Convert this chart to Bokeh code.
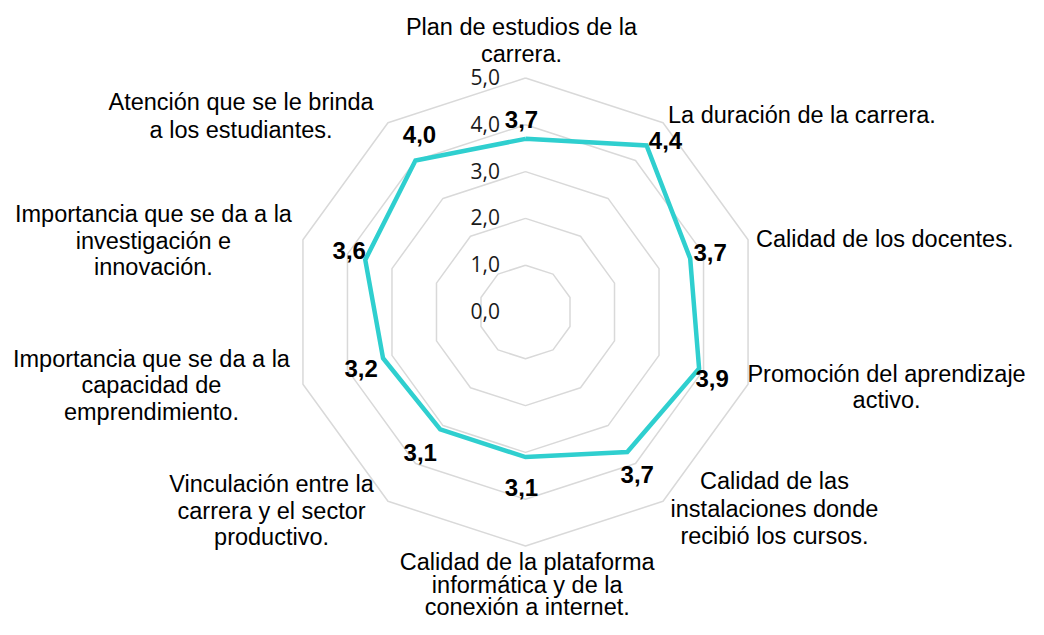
import numpy as np
from bokeh.plotting import figure
from bokeh.models import ColumnDataSource, Range1d
from bokeh.core.properties import value
from bokeh.embed import file_html
from bokeh.resources import INLINE

# ---------------- data ----------------
category_lines = [
    ["Plan de estudios de la", "carrera."],
    ["La duración de la carrera."],
    ["Calidad de los docentes."],
    ["Promoción del aprendizaje", "activo."],
    ["Calidad de las", "instalaciones donde", "recibió los cursos."],
    ["Calidad de la plataforma", "informática y de la", "conexión a internet."],
    ["Vinculación entre la", "carrera y el sector", "productivo."],
    ["Importancia que se da a la", "capacidad de", "emprendimiento."],
    ["Importancia que se da a la", "investigación e", "innovación."],
    ["Atención que se le brinda", "a los estudiantes."],
]
values = [3.7, 4.4, 3.7, 3.9, 3.7, 3.1, 3.1, 3.2, 3.6, 4.0]
ticks = [0, 1, 2, 3, 4, 5]
tick_labels = ["0,0", "1,0", "2,0", "3,0", "4,0", "5,0"]

# ---------------- style / layout (pixels) ----------------
W, H = 1028, 619
S = 46.8                     # pixels per unit of radius
CX, CY = 525.0, 311.5        # centre in figure pixels
LINE_COLOR = "#2FCFCF"
GRID_COLOR = "#D9D9D9"
FONT = "Liberation Sans"

# value-label offsets from the point (px, y down)
val_offsets = [(-4, -19), (19, -5), (20, -6), (13, 10), (10, 22),
               (-4, 30), (-20, 23), (-22, 10), (-16, -9), (4, -26)]
# category label: (dx, dy of first baseline from outer vertex, align, line spacing)
cat_layout = [
    (-4, -50.8, "center", 26.3),
    (5, -7.5, "left", 26.5),
    (8, -0.2, "left", 26.5),
    (138.5, -10.8, "center", 26.7),
    (111.4, -20.1, "center", 27.5),
    (1.7, 16.0, "center", 22.5),
    (-116.4, -17.1, "center", 26.5),
    (-151.5, -25.8, "center", 26.5),
    (-149.5, -25.2, "center", 26.5),
    (-146.9, -20.9, "center", 28.0),
]

n = len(values)
ang = np.pi / 2 - 2 * np.pi * np.arange(n) / n
cosa, sina = np.cos(ang), np.sin(ang)

p = figure(width=W, height=H,
           x_range=Range1d(-CX / S, (W - CX) / S),
           y_range=Range1d(-(H - CY) / S, CY / S),
           output_backend="svg", toolbar_location=None,
           x_axis_type=None, y_axis_type=None, min_border=0)
p.grid.visible = False
p.outline_line_color = None
p.background_fill_color = "white"

# rings
for t in ticks[1:]:
    xs = list(t * cosa) + [t * cosa[0]]
    ys = list(t * sina) + [t * sina[0]]
    p.line(xs, ys, line_color=GRID_COLOR, line_width=1.5)

# series
v = np.array(values)
sx = list(v * cosa) + [v[0] * cosa[0]]
sy = list(v * sina) + [v[0] * sina[0]]
p.line(sx, sy, line_color=LINE_COLOR, line_width=4.5, line_join="miter")

# tick labels
p.text(x=[0] * len(ticks), y=ticks, text=tick_labels,
       x_offset=-25.5, y_offset=-1,
       text_font=value("Open Sans"), text_font_size="21px",
       text_color="#1a1a1a", text_align="right", text_baseline="middle")

# value labels
vsrc = ColumnDataSource(dict(
    x=list(v * cosa), y=list(v * sina),
    t=[f"{x:.1f}".replace(".", ",") for x in values],
    dx=[o[0] for o in val_offsets], dy=[o[1] for o in val_offsets]))
p.text(x="x", y="y", text="t", x_offset="dx", y_offset="dy", source=vsrc,
       text_font=value(FONT), text_font_size="24px", text_font_style="bold",
       text_color="#000000", text_align="center", text_baseline="middle")

# category labels
R = ticks[-1]
cx, cy, ct, cdx, cdy, cal = [], [], [], [], [], []
for i, lines in enumerate(category_lines):
    dx, dy, al, sp = cat_layout[i]
    for k, ln in enumerate(lines):
        cx.append(R * cosa[i]); cy.append(R * sina[i])
        ct.append(ln); cdx.append(dx); cdy.append(dy + k * sp); cal.append(al)
csrc = ColumnDataSource(dict(x=cx, y=cy, t=ct, dx=cdx, dy=cdy, al=cal))
p.text(x="x", y="y", text="t", x_offset="dx", y_offset="dy", text_align="al",
       source=csrc, text_font=value(FONT), text_font_size="23.5px",
       text_color="#000000", text_baseline="alphabetic")

open("out.html", "w").write(file_html(p, INLINE))
